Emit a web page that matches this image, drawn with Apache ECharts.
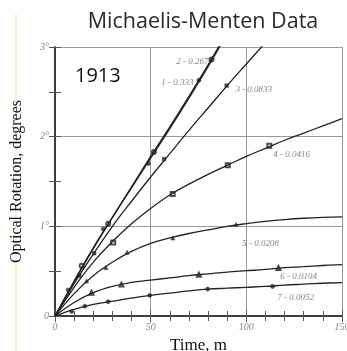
<!DOCTYPE html>
<html><head><meta charset="utf-8">
<script src="https://cdn.jsdelivr.net/npm/echarts@6/dist/echarts.min.js"></script>
<style>html,body{margin:0;padding:0;background:#fff}#c{width:347px;height:351px}</style>
</head><body><div id="c"></div>
<script>
const titleText = 'Michaelis-Menten Data';
const yearText = '1913';
const xName = 'Time, m';
const yName = 'Optical Rotation, degrees';
const xTicks = [0, 50, 100, 150];
const yTicks = ['0', '1°', '2°', '3°'];
const curveT = [0,10,20,30,40,50,60,70,80,90,100,110,120,130,140,150];
const curve1 = [0,0.39,0.76,1.10,1.43,1.76,2.09,2.43,2.78,3.15];
const curve2 = [0,0.38,0.75,1.10,1.44,1.78,2.11,2.45,2.80,3.17];
const curve3 = [0,0.36,0.69,1.00,1.28,1.55,1.81,2.07,2.32,2.57,2.81,3.05];
const curve4 = [0,0.32,0.60,0.83,1.03,1.20,1.35,1.47,1.58,1.68,1.78,1.87,1.96,2.04,2.12,2.20];
const curve5 = [0,0.25,0.45,0.60,0.72,0.81,0.87,0.92,0.96,1.00,1.03,1.055,1.075,1.09,1.10,1.105];
const curve6 = [0,0.15,0.26,0.33,0.375,0.40,0.425,0.45,0.47,0.49,0.505,0.52,0.54,0.55,0.563,0.574];
const curve7 = [0,0.075,0.13,0.165,0.20,0.23,0.255,0.28,0.30,0.31,0.32,0.33,0.345,0.355,0.365,0.373];
const pts1 = [[6.9,0.29],[25.2,0.97],[48.8,1.70],[75.2,2.63]];
const pts2 = [[13.9,0.56],[27.8,1.03],[51.7,1.83],[81.8,2.86]];
const pts3 = [[12.7,0.45],[20.5,0.70],[57,1.75],[89.7,2.57]];
const pts4 = [[30.4,0.82],[61.5,1.36],[90.3,1.68],[112,1.90]];
const pts5 = [[16.5,0.39],[26.6,0.54],[37.7,0.71],[61.6,0.87],[94.6,1.02]];
const pts6 = [[19.1,0.26],[34.7,0.35],[75.2,0.46],[116.8,0.535]];
const pts7 = [[8.7,0.05],[15.6,0.11],[27.8,0.16],[49.5,0.23],[79.8,0.30],[113.7,0.33]];
const curveLabels = ['1 - 0.333','2 - 0.267','3 - 0.0833','4 - 0.0416','5 - 0.0208','6 - 0.0104','7 - 0.0052'];
const labelPos = [[72.9,2.60],[80.7,2.835],[93.75,2.527],[113.5,1.805],[97.4,0.808],[117.2,0.435],[115.6,0.205]];
const labelAlign = ['right','right','left','left','left','left','left'];

const curves = [curve1,curve2,curve3,curve4,curve5,curve6,curve7];
const pts = [pts1,pts2,pts3,pts4,pts5,pts6,pts7];
const symbols = ['circle','emptyCircle','rect','emptyRect','triangle','emptyTriangle','circle'];

const lineSeries = curves.map(c => ({
  type:'line', smooth:0.4, showSymbol:false, clip:true, silent:true,
  data: c.map((v,i)=>[curveT[i], v]),
  lineStyle:{color:'#222', width:1.3}
}));
const ptSeries = pts.map((p,k) => ({
  type:'scatter', data:p, symbol:symbols[k], symbolSize: k===2?3.5:4,
  itemStyle:{color:'#222', borderColor:'#444', borderWidth:0.8}
}));
const labelSeries = {
  type:'scatter', symbolSize:0,
  data: labelPos.map((p,i)=>({value:p, label:{show:true, formatter:curveLabels[i], position: labelAlign[i]==='right'?'left':'right', distance:1}})),
  label:{fontFamily:'Liberation Serif', fontStyle:'italic', fontSize:9, color:'#666'}
};

const serifLabel = {fontFamily:'Liberation Serif', fontStyle:'italic', fontSize:10, color:'#888'};
const chart = echarts.init(document.getElementById('c'), null, {renderer:'canvas'});
chart.setOption({
  animation:false,
  backgroundColor:'#fff',
  title:{text:titleText, left:198, top:6, textAlign:'center',
    textStyle:{fontFamily:'Open Sans', fontWeight:'normal', fontSize:21.5, color:'#2a2a2a'}},
  graphic:[
    {type:'rect', left:15, top:14, shape:{width:2, height:337}, style:{fill:'#f7efd2'}},
    {type:'text', left:75, top:66, style:{text:yearText, fontFamily:'Open Sans', fontSize:20, fill:'#111'}}
  ],
  grid:{left:55, right:5, top:47, bottom:35, outerBoundsMode:'none', containLabel:false},
  xAxis:[{
    type:'value', min:0, max:150, interval:50,
    name:xName, nameLocation:'middle', nameGap:19,
    nameTextStyle:{fontFamily:'Liberation Serif', fontSize:17, color:'#111'},
    axisLine:{show:true, lineStyle:{color:'#333', width:1.5}},
    axisTick:{show:true, inside:true, length:6, lineStyle:{color:'#555'}},
    minorTick:{show:true, splitNumber:5, length:5, lineStyle:{color:'#555'}},
    axisLabel:{...serifLabel, margin:6, formatter:v=>String(v)},
    splitLine:{show:true, lineStyle:{color:'#999', width:1}}
  },{
    type:'value', min:0, max:150, interval:50, position:'top',
    axisLine:{show:true, lineStyle:{color:'#333', width:1.5}},
    axisTick:{show:true, inside:true, length:6, lineStyle:{color:'#555'}},
    minorTick:{show:true, splitNumber:5, length:5, lineStyle:{color:'#555'}},
    axisLabel:{show:false}, splitLine:{show:false}
  }],
  yAxis:[{
    type:'value', min:0, max:3, interval:1,
    name:yName, nameLocation:'middle', nameGap:30,
    nameTextStyle:{fontFamily:'Liberation Serif', fontSize:16, color:'#111'},
    axisLine:{show:true, lineStyle:{color:'#333', width:1.5}},
    axisTick:{show:true, inside:true, length:6, lineStyle:{color:'#555'}},
    minorTick:{show:true, splitNumber:2, length:6, lineStyle:{color:'#555'}},
    axisLabel:{...serifLabel, margin:6, formatter:v=>yTicks[Math.round(v)]},
    splitLine:{show:true, lineStyle:{color:'#999', width:1}}
  },{
    type:'value', min:0, max:3, interval:1, position:'right',
    axisLine:{show:true, lineStyle:{color:'#333', width:1.5}},
    axisTick:{show:true, inside:true, length:6, lineStyle:{color:'#555'}},
    minorTick:{show:true, splitNumber:2, length:6, lineStyle:{color:'#555'}},
    axisLabel:{show:false}, splitLine:{show:false}
  }],
  series:[...lineSeries, ...ptSeries, labelSeries]
});
</script></body></html>
